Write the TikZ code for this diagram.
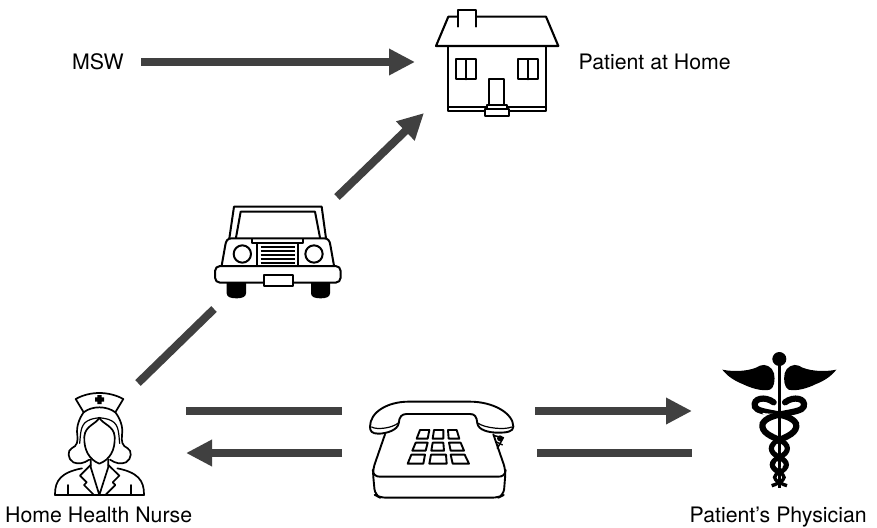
\documentclass[tikz,border=0pt]{standalone}
\usepackage{fontspec}
\setmainfont{TeX Gyre Heros}
\usetikzlibrary{arrows.meta}
\definecolor{flow}{HTML}{404040}
\tikzset{
  flowline/.style={draw=flow,line width=8pt},
  flowarrow/.style={flowline,-{Triangle[length=26pt,width=25pt]}},
  lbl/.style={font=\fontsize{21.3pt}{24pt}\selectfont,anchor=base west,inner sep=0pt,text=black},
  ink/.style={draw=black,line width=#1,line join=round,line cap=round,fill=none},
  ink/.default=1.6pt,
  zoomed/.style={x=0.33333pt,y=-0.33333pt}
}
\begin{document}
\begin{tikzpicture}[x=1pt,y=-1pt]
\useasboundingbox (0,0) rectangle (877,527);
% labels
\node[lbl] (msw) at (72,70) {MSW};
\node[lbl] (home) at (578.5,70) {Patient at Home};
\node[lbl] (nurse) at (5,522.5) {Home Health Nurse};
\node[lbl] (phys) at (689.5,522.5) {Patient’s Physician};
% connector ends
\coordinate (mswE) at (141,62);
\coordinate (houseW) at (415,62);
\coordinate (carNE) at (337,197);
\coordinate (houseSW) at (424,113);
\coordinate (nurseNE) at (138,383);
\coordinate (carSW) at (214,309);
\coordinate (nurseTop) at (186,411);
\coordinate (phoneTopW) at (342,411);
\coordinate (phoneBotW) at (342,453);
\coordinate (nurseBot) at (186,453);
\coordinate (phoneTopE) at (535,411);
\coordinate (physTop) at (692,411);
\coordinate (phoneBotE) at (537,453);
\coordinate (physBot) at (692,453);
% connectors
\draw[flowarrow] (mswE) -- (houseW);
\draw[flowarrow] (carNE) -- (houseSW);
\draw[flowline] (nurseNE) -- (carSW);
\draw[flowline] (nurseTop) -- (phoneTopW);
\draw[flowarrow] (phoneBotW) -- (nurseBot);
\draw[flowarrow] (phoneTopE) -- (physTop);
\draw[flowline] (phoneBotE) -- (physBot);
% house
\begin{scope}[shift={(420,0)},zoomed]
\draw[ink=2.1pt] (85,138) rectangle (378,333);
\draw[ink=2.1pt] (85,321) -- (378,321);
\draw[ink=2.1pt] (48,138) -- (85,50) -- (378,50) -- (415,138) -- cycle;
\draw[ink=2.1pt,fill=white] (115,80) -- (115,30) -- (167,30) -- (167,80);
\draw[draw=white,line width=2.5pt] (119,50) -- (163,50);
\draw[ink=2.1pt] (109,178) rectangle (168,238) (139,178) -- (139,238);
\draw[ink=2.1pt] (293,178) rectangle (353,238) (323,178) -- (323,238);
\draw[ink=2.1pt] (208,238) rectangle (253,315);
\draw[ink=2.1pt,fill=white] (200,315) rectangle (262,328);
\draw[ink=2.1pt,fill=white] (195,328) rectangle (268,347);
\end{scope}
% car
\begin{scope}[shift={(200,195)},zoomed]
\fill[black] (80,255) -- (138,255) -- (138,295) .. controls (138,306) and (125,310) .. (110,310) .. controls (92,310) and (80,306) .. (80,295) -- cycle;
\fill[black] (333,255) -- (390,255) -- (390,295) .. controls (390,306) and (378,310) .. (362,310) .. controls (345,310) and (333,306) .. (333,295) -- cycle;
\draw[ink=2pt] (88,130) -- (102,35) -- (365,35) -- (378,130);
\draw[ink=2pt] (108,128) -- (122,50) -- (345,50) -- (360,128);
\draw[ink=2pt] (65,212) -- (76,150) .. controls (78,138) and (82,130) .. (95,130) -- (372,130) .. controls (385,130) and (389,138) .. (391,150) -- (402,212);
\draw[ink=2pt] (155,132) -- (155,145) -- (310,145) -- (310,132);
\draw[ink=2pt] (172,145) rectangle (295,213);
\foreach \yy in {155,167,179,191,203}{\draw[black,line width=2.2pt] (182,\yy) -- (285,\yy);}
\draw[ink=2pt] (127,177) circle [radius=26];
\draw[ink=2pt] (342,177) circle [radius=26];
\draw[ink=2pt,fill=white,rounded corners=5pt] (45,213) rectangle (422,263);
\draw[ink=2pt,fill=white] (192,240) rectangle (278,273);
\end{scope}
% nurse
\begin{scope}[shift={(40,385)},zoomed]
% cap
\draw[ink=1.7pt] (107,42) .. controls (150,18) and (206,18) .. (250,42) -- (226,82) .. controls (200,62) and (156,62) .. (131,82) -- cycle;
\fill[black] (172,30) rectangle (185,57) (165,37) rectangle (192,50);
% hair
\draw[ink=1.7pt] (131,82) .. controls (118,100) and (108,125) .. (112,150) .. controls (114,170) and (112,182) .. (95,190) .. controls (82,196) and (82,222) .. (100,232) .. controls (115,238) and (130,236) .. (148,224);
\draw[ink=1.7pt] (226,82) .. controls (240,100) and (250,125) .. (246,150) .. controls (244,170) and (246,182) .. (263,190) .. controls (276,196) and (276,222) .. (258,232) .. controls (243,238) and (228,236) .. (210,224);
% face
\draw[ink=1.7pt] (178,98) .. controls (168,118) and (135,122) .. (133,155) .. controls (131,195) and (148,224) .. (178,236) .. controls (210,224) and (226,195) .. (224,155) .. controls (222,122) and (188,118) .. (178,98);
% inner hair lines
\draw[ink=1.2pt] (119,175) .. controls (122,150) and (120,120) .. (142,108) .. controls (155,100) and (168,100) .. (178,98);
\draw[ink=1.2pt] (239,175) .. controls (236,150) and (238,120) .. (216,108) .. controls (203,100) and (188,100) .. (178,98);
% body
\draw[ink=1.7pt] (45,330) -- (312,330);
\draw[ink=1.7pt] (45,330) .. controls (44,285) and (65,262) .. (126,250) (312,330) .. controls (313,285) and (292,262) .. (232,250);
\draw[ink=1.7pt] (152,224) -- (152,246) -- (178,330) -- (205,246) -- (205,224);
\draw[ink=1.7pt] (152,240) -- (120,272) -- (140,292) -- (132,300) -- (160,328);
\draw[ink=1.7pt] (205,240) -- (238,272) -- (218,292) -- (226,300) -- (198,328);
\draw[ink=1.7pt] (85,330) -- (85,300) (272,330) -- (272,300);
\end{scope}
% telephone
\begin{scope}[shift={(360,395)},zoomed]
% body
\draw[ink=1.9pt,rounded corners=6pt] (75,118) -- (38,225) -- (45,300) -- (60,308) -- (415,308) -- (431,300) -- (437,225) -- (400,118);
\draw[ink=1.9pt] (38,225) .. controls (40,240) and (48,245) .. (60,245) -- (415,245) .. controls (428,245) and (435,240) .. (437,225);
% handset
\draw[ink=1.9pt,fill=white] (30,95) .. controls (30,50) and (85,20) .. (145,20) -- (330,20) .. controls (400,20) and (460,55) .. (460,95) .. controls (460,110) and (440,113) .. (415,113) .. controls (385,113) and (355,105) .. (352,85) .. controls (350,65) and (345,57) .. (330,57) -- (140,57) .. controls (125,57) and (118,65) .. (116,85) .. controls (113,105) and (80,116) .. (55,116) .. controls (35,116) and (30,108) .. (30,95) -- cycle;
\draw[ink=1.2pt] (35,96) .. controls (50,105) and (95,100) .. (115,84);
\draw[ink=1.2pt] (455,96) .. controls (435,105) and (375,100) .. (353,84);
% keys
\draw[ink=1.9pt] (180,105) -- (208,105) -- (203,131) -- (170,131) -- cycle;
\draw[ink=1.9pt] (222,105) -- (250,105) -- (250,131) -- (218,131) -- cycle;
\draw[ink=1.9pt] (264,105) -- (290,105) -- (298,131) -- (266,131) -- cycle;
\draw[ink=1.9pt] (167,143) -- (203,143) -- (197,167) -- (157,167) -- cycle;
\draw[ink=1.9pt] (218,143) -- (250,143) -- (252,167) -- (214,167) -- cycle;
\draw[ink=1.9pt] (267,143) -- (302,143) -- (312,167) -- (272,167) -- cycle;
\draw[ink=1.9pt] (154,179) -- (195,179) -- (190,206) -- (143,206) -- cycle;
\draw[ink=1.9pt] (213,179) -- (258,179) -- (260,206) -- (208,206) -- cycle;
\draw[ink=1.9pt] (272,179) -- (314,179) -- (327,206) -- (278,206) -- cycle;
% cord
\draw[ink=1.5pt] (402,122) -- (430,128) -- (412,160);
\fill[black] (420,130) circle [radius=9];
\draw[black,line width=1.3pt] (408,140) -- (428,150);
\end{scope}
% caduceus
\begin{scope}[shift={(715,345)},zoomed]
\fill[black] (193,42) circle [radius=21];
\fill[black] (189,42) rectangle (198,430);
% wings
\fill[black] (22,74) .. controls (60,82) and (110,78) .. (135,62) .. controls (150,55) and (172,65) .. (177,85) .. controls (181,105) and (178,128) .. (165,134) .. controls (140,140) and (105,128) .. (85,118) .. controls (60,108) and (38,95) .. (22,74) -- cycle;
\fill[black] (364,74) .. controls (326,82) and (276,78) .. (251,62) .. controls (236,55) and (214,65) .. (209,85) .. controls (205,105) and (208,128) .. (221,134) .. controls (246,140) and (281,128) .. (301,118) .. controls (326,108) and (348,95) .. (364,74) -- cycle;
% snakes: upper bodies with coiled heads
\draw[black,line width=6.2pt,line cap=round] (176,172) .. controls (150,152) and (112,160) .. (120,185) .. controls (128,208) and (225,200) .. (243,236) .. controls (250,262) and (215,275) .. (193,285);
\draw[white,line width=1.6pt] (143,206) .. controls (170,212) and (200,204) .. (222,200);
\draw[black,line width=6.2pt,line cap=round] (210,172) .. controls (236,152) and (274,160) .. (266,185) .. controls (258,208) and (161,200) .. (143,236) .. controls (136,262) and (171,275) .. (193,285);
% lower twists
\draw[black,line width=5.2pt] (193,285) .. controls (225,298) and (225,322) .. (193,337) .. controls (165,350) and (165,368) .. (193,382);
\draw[black,line width=5.2pt] (193,285) .. controls (161,298) and (161,322) .. (193,337) .. controls (221,350) and (221,368) .. (193,382);
\draw[black,line width=3.4pt] (193,382) .. controls (212,392) and (212,402) .. (193,412) .. controls (185,418) and (175,420) .. (170,422);
\draw[black,line width=3.4pt] (193,382) .. controls (174,392) and (174,402) .. (193,412) .. controls (201,418) and (211,420) .. (216,422);
\fill[white] (186,300) circle [radius=3.5] (200,318) circle [radius=3.5] (186,352) circle [radius=3] (200,368) circle [radius=3];
\end{scope}
\end{tikzpicture}
\end{document}
